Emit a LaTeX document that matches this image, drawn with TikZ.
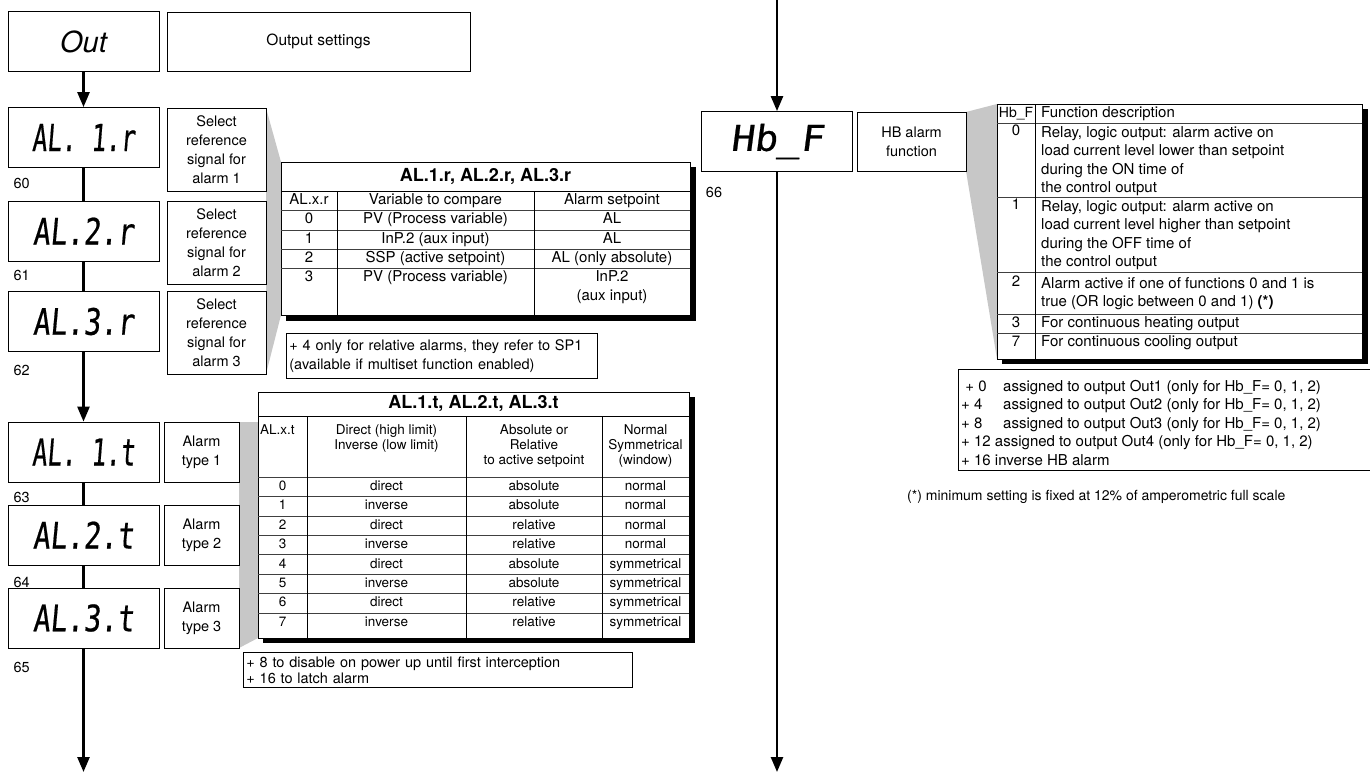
\documentclass[tikz,border=0pt]{standalone}
\usepackage{fontspec}
\setmainfont{TeX Gyre Heros}
\newfontfamily\segfont[FakeSlant=0.12,FakeBold=0.6]{DejaVu Sans Mono}
\usepackage{graphicx}
\usetikzlibrary{arrows.meta}
\newcommand{\bodyfont}{\fontsize{14.5}{19}\selectfont}
\newcommand{\tabfont}{\fontsize{15}{19}\selectfont}
\newcommand{\cellfont}{\fontsize{13.5}{15}\selectfont}
\newcommand{\hbfont}{\fontsize{15}{18.5}\selectfont}
\newcommand{\notefont}{\fontsize{14.5}{16}\selectfont}
\newcommand{\titlefont}{\fontsize{18}{20}\selectfont\bfseries}
\newcommand{\seg}[2]{\resizebox{#1}{27pt}{\segfont #2}}
\tikzset{
  disp/.style={draw,line width=0.8pt,minimum width=151pt,minimum height=60pt,inner sep=0pt},
  desc/.style={draw,line width=0.8pt,align=center,font=\bodyfont,inner sep=0pt},
  note/.style={draw,line width=0.8pt,align=left,font=\notefont,inner xsep=3pt,inner ysep=4pt},
  arr/.style={-{Triangle[length=15pt,width=12pt]},line width=2.5pt},
  link/.style={line width=2.5pt},
  wedge/.style={fill=black!22,draw=none},
  tabline/.style={line width=0.8pt},
  rowline/.style={line width=0.6pt,black!75}
}

\begin{document}
\begin{tikzpicture}[x=1pt,y=-1pt,
  cell/.style={font=\tabfont,inner sep=0pt,text height=10.5pt,text depth=3pt},
  tcell/.style={font=\cellfont,inner sep=0pt,text height=9.5pt,text depth=2.5pt},
  hcell/.style={font=\hbfont,inner sep=0pt,text height=10.5pt,text depth=3pt}]
  \useasboundingbox (0,0) rectangle (1370,776);
  % grey wedges behind the tables
  \fill[wedge] (266,108) -- (281,162) -- (281,315) -- (266,374) -- cycle;
  \fill[wedge] (239,422) -- (258,422) -- (258,638) -- (239,648) -- cycle;
  \fill[wedge] (966,112) -- (997,104) -- (997,359) -- (966,171) -- cycle;

  % left column
  \node[disp] (out) at (83.5,41.5) {\fontsize{29}{30}\selectfont\itshape Out};
  \node[desc,font=\fontsize{15.5}{19}\selectfont,minimum width=303pt,minimum height=59pt] (outd) at (318.5,41.5) {Output settings};
  \node[disp] (al1r) at (83.5,137.5) {\seg{103pt}{AL. 1.r}};
  \node[disp] (al2r) at (83.5,231) {\seg{101pt}{AL.2.r}};
  \node[disp] (al3r) at (83.5,321.5) {\seg{101pt}{AL.3.r}};
  \node[desc,minimum width=99pt,minimum height=83pt] (al1rd) at (216.5,149.5) {Select\\reference\\signal for\\alarm 1};
  \node[desc,minimum width=99pt,minimum height=83pt] (al2rd) at (216.5,242.5) {Select\\reference\\signal for\\alarm 2};
  \node[desc,minimum width=99pt,minimum height=83pt] (al3rd) at (216.5,332.5) {Select\\reference\\signal for\\alarm 3};
  \node[disp] (al1t) at (83.5,452) {\seg{103pt}{AL. 1.t}};
  \node[disp] (al2t) at (83.5,535) {\seg{101pt}{AL.2.t}};
  \node[disp] (al3t) at (83.5,618) {\seg{101pt}{AL.3.t}};
  \node[desc,minimum width=75pt,minimum height=60pt] (al1td) at (201.5,452) {Alarm\\type 1};
  \node[desc,minimum width=75pt,minimum height=60pt] (al2td) at (201.5,535) {Alarm\\type 2};
  \node[desc,minimum width=75pt,minimum height=60pt] (al3td) at (201.5,618) {Alarm\\type 3};
  \node[font=\bodyfont,anchor=west] (n60) at (10,183) {60};
  \node[font=\bodyfont,anchor=west] (n61) at (10,275) {61};
  \node[font=\bodyfont,anchor=west] (n62) at (10,370) {62};
  \node[font=\bodyfont,anchor=west] (n63) at (10,497) {63};
  \node[font=\bodyfont,anchor=west] (n64) at (10,582) {64};
  \node[font=\bodyfont,anchor=west] (n65) at (10,667) {65};
  \coordinate (lend) at (83.5,772);
  \draw[arr] (out) -- (al1r);
  \draw[link] (al1r) -- (al2r);
  \draw[link] (al2r) -- (al3r);
  \draw[arr] (al3r) -- (al1t);
  \draw[link] (al1t) -- (al2t);
  \draw[link] (al2t) -- (al3t);
  \draw[arr] (al3t) -- (lend);

  % AL.x.r table
  \fill (286,167) rectangle (696,321);
  \draw[tabline,fill=white] (281,162) rectangle (690,315);
  \draw[tabline] (281,191) -- (690,191);
  \foreach \y in {210,230,249,268} \draw[rowline] (281,\y) -- (690,\y);
  \draw[tabline] (337,191) -- (337,315) (534,191) -- (534,315);
  \node[font=\titlefont] (rtitle) at (485.5,177) {AL.1.r, AL.2.r, AL.3.r};
  \node[cell] (rh1) at (309,200.5) {AL.x.r};
  \node[cell] (rh2) at (435.5,200.5) {Variable to compare};
  \node[cell] (rh3) at (612,200.5) {Alarm setpoint};
  \foreach \rn/\rv/\rs [count=\i from 0] in {0/PV (Process variable)/AL,1/InP.2 (aux input)/AL,2/SSP (active setpoint)/AL (only absolute),3/PV (Process variable)/InP.2}{
    \node[cell] (r\rn-a) at (309,{220+19.3*\i}) {\rn};
    \node[cell] (r\rn-b) at (435.5,{220+19.3*\i}) {\rv};
    \node[cell] (r\rn-c) at (612,{220+19.3*\i}) {\rs};
  }
  \node[cell] (r3-d) at (612,297) {(aux input)};
  \node[note,font=\bodyfont,text width=305pt,anchor=north west,inner ysep=6pt] (relnote) at (286,333)
    {+ 4 only for relative alarms, they refer to SP1\\(available if multiset function enabled)};

  % AL.x.t table
  \fill (263,397) rectangle (695,643);
  \draw[tabline,fill=white] (258,392) rectangle (689,638);
  \draw[tabline] (258,416) -- (689,416);
  \draw[rowline] (258,477) -- (689,477);
  \foreach \k in {1,...,7} \draw[rowline] (258,{477+19.4*\k}) -- (689,{477+19.4*\k});
  \draw[tabline] (307,416) -- (307,638) (466,416) -- (466,638) (602,416) -- (602,638);
  \node[font=\titlefont] (ttitle) at (473.5,404) {AL.1.t, AL.2.t, AL.3.t};
  \node[font=\cellfont,anchor=north west,inner sep=0pt] (th1) at (260,424) {AL.x.t};
  \node[font=\cellfont,anchor=north,align=center,inner sep=0pt] (th2) at (386.5,424) {Direct (high limit)\\Inverse (low limit)};
  \node[font=\cellfont,anchor=north,align=center,inner sep=0pt] (th3) at (534,424) {Absolute or\\Relative\\to active setpoint};
  \node[font=\cellfont,anchor=north,align=center,inner sep=0pt] (th4) at (645.5,424) {Normal\\Symmetrical\\(window)};
  \foreach \tn/\tdir/\tabs/\tsym [count=\i from 0] in {0/direct/absolute/normal,1/inverse/absolute/normal,2/direct/relative/normal,3/inverse/relative/normal,4/direct/absolute/symmetrical,5/inverse/absolute/symmetrical,6/direct/relative/symmetrical,7/inverse/relative/symmetrical}{
    \node[tcell] (t\tn-a) at (282.5,{487+19.4*\i}) {\tn};
    \node[tcell] (t\tn-b) at (386.5,{487+19.4*\i}) {\tdir};
    \node[tcell] (t\tn-c) at (534,{487+19.4*\i}) {\tabs};
    \node[tcell] (t\tn-d) at (645.5,{487+19.4*\i}) {\tsym};
  }
  \node[note,text width=383pt,anchor=north west] (latch) at (243,652)
    {+ 8 to disable on power up until first interception\\+ 16 to latch alarm};

  % right column
  \node[disp] (hbf) at (777,141.5) {\seg{93pt}{Hb\_F}};
  \node[desc,minimum width=109pt,minimum height=59pt] (hbfd) at (911.5,141.5) {HB alarm\\function};
  \node[font=\bodyfont] (n66) at (714,192) {66};
  \coordinate (rtop) at (777,0);
  \coordinate (rend) at (777,772);
  \draw[arr] (rtop) -- (hbf);
  \draw[arr] (hbf) -- (rend);

  % Hb_F table
  \fill (1002,109) rectangle (1368,364);
  \draw[tabline,fill=white] (997,104) rectangle (1362,359);
  \foreach \y in {123,197,272,314,333} \draw[rowline] (997,\y) -- (1362,\y);
  \draw[tabline] (1035,104) -- (1035,359);
  \node[hcell,font=\fontsize{14}{18}\selectfont] (hh1) at (1016,113.5) {Hb\_F};
  \node[hcell,anchor=west] (hh2) at (1041,113.5) {Function description};
  \node[hcell] (h0a) at (1016,132) {0};
  \node[hcell] (h1a) at (1016,206) {1};
  \node[hcell] (h2a) at (1016,283) {2};
  \node[hcell] (h3a) at (1016,324) {3};
  \node[hcell] (h7a) at (1016,343) {7};
  \node[font=\hbfont,align=left,anchor=north west,inner sep=0pt] (h0b) at (1041,126)
    {Relay, logic output: alarm active on\\load current level lower than setpoint\\during the ON time of\\the control output};
  \node[font=\hbfont,align=left,anchor=north west,inner sep=0pt] (h1b) at (1041,200)
    {Relay, logic output: alarm active on\\load current level higher than setpoint\\during the OFF time of\\the control output};
  \node[font=\hbfont,align=left,anchor=north west,inner sep=0pt] (h2b) at (1041,277)
    {Alarm active if one of functions 0 and 1 is\\true (OR logic between 0 and 1) \textbf{(*)}};
  \node[hcell,anchor=west] (h3b) at (1041,324) {For continuous heating output};
  \node[hcell,anchor=west] (h7b) at (1041,343) {For continuous cooling output};

  % notes under the Hb_F table
  \draw[tabline] (1376,369) -- (958,369) -- (958,470) -- (1376,470);
  \node[font=\hbfont,align=left,anchor=north west,inner sep=0pt] (hbnote) at (961,380)
    {\makebox[42pt][l]{\ + 0}assigned to output Out1 (only for Hb\_F= 0, 1, 2)\\
     \makebox[42pt][l]{+ 4}assigned to output Out2 (only for Hb\_F= 0, 1, 2)\\
     \makebox[42pt][l]{+ 8}assigned to output Out3 (only for Hb\_F= 0, 1, 2)\\
     + 12 assigned to output Out4 (only for Hb\_F= 0, 1, 2)\\
     + 16 inverse HB alarm};
  \node[font=\fontsize{14}{18}\selectfont,anchor=west,inner sep=0pt] (minnote) at (907,497)
    {(*) minimum setting is fixed at 12\% of amperometric full scale};
\end{tikzpicture}
\end{document}
